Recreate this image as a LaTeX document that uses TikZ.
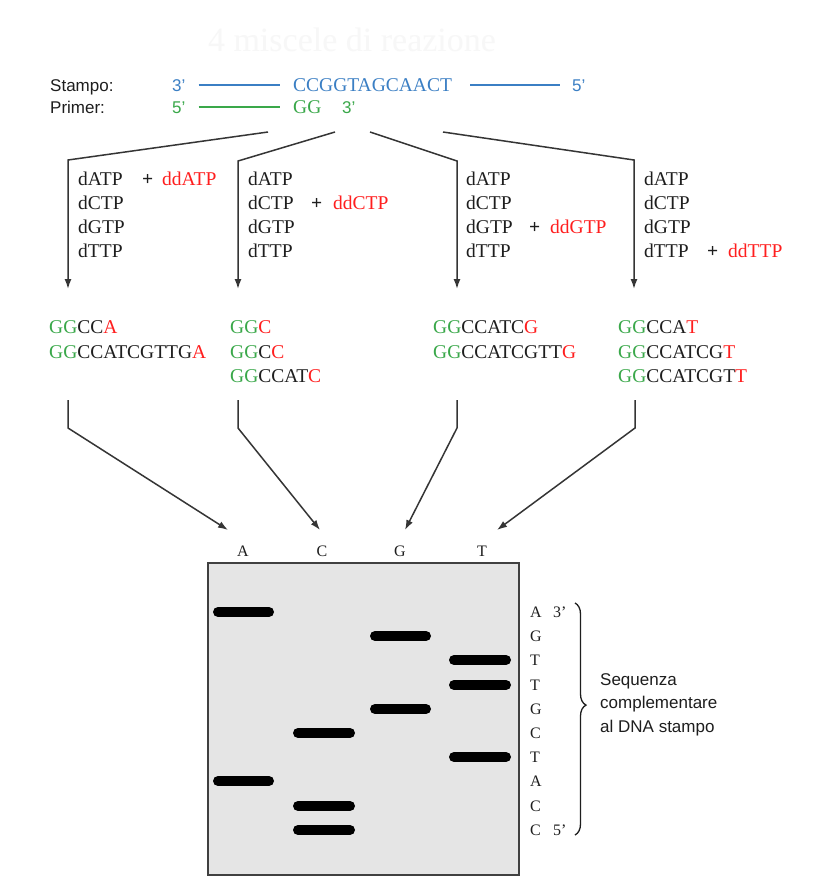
\documentclass[tikz,border=0pt]{standalone}
\usepackage{fontspec}
\setmainfont{Liberation Serif}
\setsansfont{Liberation Sans}
\usetikzlibrary{arrows.meta,decorations.pathreplacing}
\definecolor{tblue}{RGB}{59,127,196}
\definecolor{tgreen}{RGB}{58,168,74}
\definecolor{tred}{RGB}{255,30,30}
\definecolor{tink}{RGB}{30,30,30}
\definecolor{gelfill}{RGB}{229,229,229}
\newcommand\seqp[2]{{\color{tgreen}GG}#1{\color{tred}#2}}
\begin{document}
\begin{tikzpicture}[x=1pt,y=-1pt,
  txt/.style={inner sep=0pt,anchor=base west,text=tink,font=\fontsize{19.5}{22}\selectfont},
  lbl/.style={inner sep=0pt,anchor=base west,text=tink,font=\sffamily\fontsize{17}{20}\selectfont},
  gl/.style={inner sep=0pt,anchor=west,text=tink,font=\fontsize{16}{19}\selectfont},
  strand/.style={line width=1.5pt},
  conn/.style={draw=tink!90,line width=1.5pt,line join=miter},
  arr/.style={conn,-{Latex[length=10pt,width=7pt]}},
  band/.style={line width=10pt,line cap=round,draw=black},
  gel/.style={fill=gelfill,draw=tink!85,line width=1.5pt}]
\useasboundingbox (0,0) rectangle (830,879);
\fill[white] (0,0) rectangle (830,879);

% faint title
\node[inner sep=0pt,text=black!3,font=\fontsize{34}{40}\selectfont] (title) at (352,40) {4 miscele di reazione};

% template and primer
\node[lbl] (stampo) at (50,91) {Stampo:};
\node[lbl] (primer) at (50,113) {Primer:};
\node[lbl,text=tblue] (s3) at (172,91) {3’};
\node[txt,text=tblue] (tseq) at (293,91) {CCGGTAGCAACT};
\node[lbl,text=tblue] (s5) at (572,91) {5’};
\node[lbl,text=tgreen] (p5) at (172,113) {5’};
\node[txt,text=tgreen] (pgg) at (293,113) {GG};
\node[lbl,text=tgreen] (p3) at (342,113) {3’};
\draw[strand,tblue,shorten <=13pt,shorten >=13pt] (s3.east) -- (s3.east -| tseq.west);
\draw[strand,tblue,shorten <=18pt,shorten >=12pt] (s3.east -| tseq.east) -- (s3.east -| s5.west);
\draw[strand,tgreen,shorten <=13pt,shorten >=13pt] (p5.east) -- (p5.east -| pgg.west);

% reaction mixtures
\foreach \c/\x in {1/78,2/248,3/466,4/644}{
  \node[txt] (m\c a) at (\x,185) {dATP};
  \node[txt] (m\c c) at (\x,209) {dCTP};
  \node[txt] (m\c g) at (\x,233) {dGTP};
  \node[txt] (m\c t) at (\x,257) {dTTP};
}
\node[txt] (plus1) at (142,185) {\textbf{+}};
\node[txt,text=tred] (dd1) at (162,185) {ddATP};
\node[txt] (plus2) at (311,209) {\textbf{+}};
\node[txt,text=tred] (dd2) at (333,209) {ddCTP};
\node[txt] (plus3) at (529,233) {\textbf{+}};
\node[txt,text=tred] (dd3) at (550,233) {ddGTP};
\node[txt] (plus4) at (707,257) {\textbf{+}};
\node[txt,text=tred] (dd4) at (728,257) {ddTTP};

% top connectors
\coordinate (t1) at (268,132); \coordinate (k1) at (68,160); \coordinate (e1) at (68,289);
\coordinate (t2) at (335,132); \coordinate (k2) at (238,161); \coordinate (e2) at (238,289);
\coordinate (t3) at (370,132); \coordinate (k3) at (457,161); \coordinate (e3) at (457,289);
\coordinate (t4) at (443,132); \coordinate (k4) at (634,160); \coordinate (e4) at (634,289);
\foreach \i in {1,2,3,4}{\draw[arr] (t\i) -- (k\i) -- (e\i);}

% products
\node[txt] (r1a) at (49,333) {\seqp{CC}{A}};
\node[txt] (r1b) at (49,358) {\seqp{CCATCGTTG}{A}};
\node[txt] (r2a) at (230,333) {\seqp{}{C}};
\node[txt] (r2b) at (230,358) {\seqp{C}{C}};
\node[txt] (r2c) at (230,382) {\seqp{CCAT}{C}};
\node[txt] (r3a) at (433,333) {\seqp{CCATC}{G}};
\node[txt] (r3b) at (433,358) {\seqp{CCATCGTT}{G}};
\node[txt] (r4a) at (618,333) {\seqp{CCA}{T}};
\node[txt] (r4b) at (618,358) {\seqp{CCATCG}{T}};
\node[txt] (r4c) at (618,382) {\seqp{CCATCGT}{T}};

% lane labels
\node[gl,anchor=center] (la) at (243,551) {A};
\node[gl,anchor=center] (lc) at (322,551) {C};
\node[gl,anchor=center] (lg) at (400,551) {G};
\node[gl,anchor=center] (lt) at (482,551) {T};

% lower connectors
\coordinate (b1) at (68,400); \coordinate (d1) at (68,428); \coordinate (f1) at (228,530);
\coordinate (b2) at (238,400); \coordinate (d2) at (238,428); \coordinate (f2) at (320,530);
\coordinate (b3) at (457,400); \coordinate (d3) at (457,428); \coordinate (f3) at (405,530);
\coordinate (b4) at (635,400); \coordinate (d4) at (635,428); \coordinate (f4) at (497,530);
\foreach \i in {1,2,3,4}{\draw[arr] (b\i) -- (d\i) -- (f\i);}

% gel
\draw[gel] (208,563) rectangle (519,875);
% lane A
\draw[band] (218,612) -- (269,612);
\draw[band] (218,781) -- (269,781);
% lane C
\draw[band] (298,733) -- (350,733);
\draw[band] (298,806) -- (350,806);
\draw[band] (298,830) -- (350,830);
% lane G
\draw[band] (375,636) -- (426,636);
\draw[band] (375,709) -- (426,709);
% lane T
\draw[band] (454,660) -- (506,660);
\draw[band] (454,685) -- (506,685);
\draw[band] (454,757) -- (506,757);

% read sequence
\foreach \l/\y/\n in {A/612/1,G/636/2,T/660/3,T/685/4,G/709/5,C/733/6,T/757/7,A/781/8,C/806/9,C/830/10}{
  \node[gl] (q\n) at (530,\y) {\l};
}
\node[gl] (q3p) at (553,612) {3’};
\node[gl] (q5p) at (553,830) {5’};
\draw[decorate,decoration={brace,amplitude=11pt,aspect=0.44},line width=1.3pt,tink] (575,603) -- (575,835);
\node[lbl] (cap1) at (600,685) {Sequenza};
\node[lbl] (cap2) at (600,708) {complementare};
\node[lbl] (cap3) at (600,732) {al DNA stampo};
\end{tikzpicture}
\end{document}
